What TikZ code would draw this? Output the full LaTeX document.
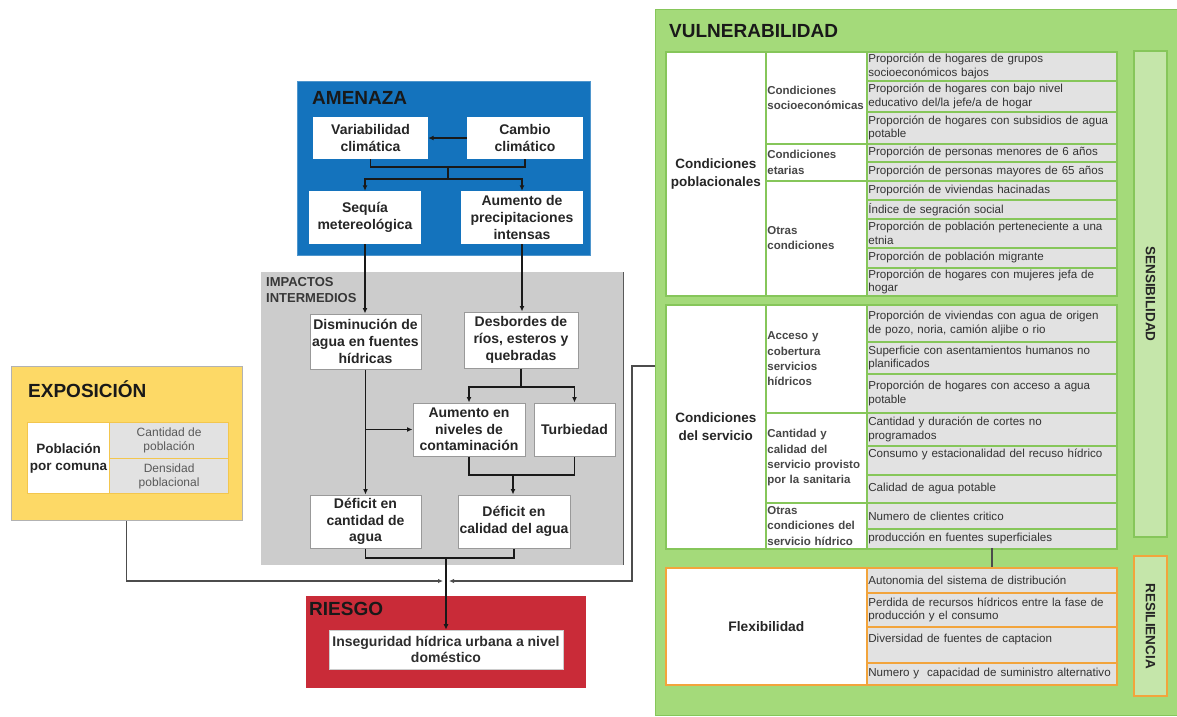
\documentclass[tikz,border=0pt]{standalone}
\usepackage{fontspec}
\setmainfont{Liberation Sans}
\usetikzlibrary{arrows.meta}
\hyphenpenalty=10000
\exhyphenpenalty=10000
\definecolor{amzblue}{HTML}{1473BD}
\definecolor{riskred}{HTML}{C92B38}
\definecolor{expyellow}{HTML}{FDD966}
\definecolor{expborder}{HTML}{F3C64E}
\definecolor{vgreen}{HTML}{A4DA7A}
\definecolor{vborder}{HTML}{86C65A}
\definecolor{lightg}{HTML}{C5E6AA}
\definecolor{cellgray}{HTML}{E2E2E2}
\definecolor{impgray}{HTML}{CCCCCC}
\definecolor{orangeb}{HTML}{F2A43C}
\begin{document}
\begin{tikzpicture}[x=1pt,y=-1pt,
  ttl/.style={font=\fontsize{19}{22}\selectfont\bfseries, text=black!90, inner sep=0pt, anchor=west},
  wbox/.style={fill=white, align=center, inner sep=0pt, font=\fontsize{14}{16.7}\selectfont\bfseries, text=black!85},
  ibox/.style={wbox, draw=black!40, line width=1pt},
  conn/.style={draw=black!90, line width=1.6pt},
  arr/.style={conn, -{Latex[length=5.5pt,width=5pt]}},
  gconn/.style={draw=black!70, line width=1.1pt},
  garr/.style={gconn, -{Latex[length=5pt,width=4.5pt]}},
  tcell/.style={anchor=north west, draw=vborder, line width=1.7pt, fill=cellgray, inner xsep=1.5pt, inner ysep=0pt, text width=247pt, minimum width=250pt, minimum height=#1, align=left, font=\fontsize{11.6}{13.6}\selectfont, text=black!80},
  ocell/.style={tcell=#1, draw=orangeb},
  ccell/.style={anchor=north west, draw=vborder, line width=1.7pt, fill=white, inner xsep=1.5pt, inner ysep=0pt, text width=98pt, minimum width=101pt, minimum height=#1, align=left, font=\fontsize{11.5}{15.3}\selectfont\bfseries, text=black!72},
  hcell/.style={anchor=north west, draw=vborder, line width=1.7pt, fill=white, inner sep=0pt, minimum width=100pt, minimum height=#1, align=center, font=\fontsize{13.5}{17.5}\selectfont\bfseries, text=black!85},
  ecell/.style={anchor=north west, draw=expborder, line width=1.2pt, fill=cellgray, inner sep=0pt, minimum width=119pt, minimum height=#1, align=center, font=\fontsize{12}{14}\selectfont, text=black!65},
  side/.style={line width=1.4pt, fill=lightg, rotate=-90, minimum height=33pt, inner sep=0pt, font=\fontsize{13.5}{16}\selectfont\bfseries, text=black!85},
]
\useasboundingbox (0,0) rectangle (1177,716);

% ---------------- AMENAZA ----------------
\node[anchor=north west, fill=amzblue, draw=amzblue!75!white, line width=0.8pt, minimum width=293pt, minimum height=174pt, inner sep=0pt] (amz) at (297,81) {};
\node[ttl] (amzt) at (312,97.5) {AMENAZA};
\node[wbox, minimum width=115pt, minimum height=42pt] (var) at (370.5,138) {Variabilidad\\climática};
\node[wbox, minimum width=116pt, minimum height=42pt] (cam) at (525,138) {Cambio\\climático};
\node[wbox, minimum width=112pt, minimum height=53pt] (seq) at (365,217.5) {Sequía\\metereológica};
\node[wbox, minimum width=122pt, minimum height=53pt] (aum) at (522,217.5) {Aumento de\\precipitaciones\\intensas};

% ---------------- IMPACTOS ----------------
\node[anchor=north west, fill=impgray, minimum width=362pt, minimum height=293pt, inner sep=0pt] (imp) at (261,272) {};
\draw[black!65, line width=1.2pt] (imp.north east) -- (imp.south east);
\node[anchor=north west, align=left, inner sep=0pt, font=\fontsize{13}{16}\selectfont\bfseries, text=black!78] (impt) at (266,277) {IMPACTOS\\INTERMEDIOS};
\node[ibox, minimum width=111pt, minimum height=55pt] (dis) at (365.5,341.5) {Disminución de\\agua en fuentes\\hídricas};
\node[ibox, minimum width=114pt, minimum height=56pt] (des) at (521,340) {Desbordes de\\ríos, esteros y\\quebradas};
\node[ibox, minimum width=112pt, minimum height=53pt] (cont) at (469,429.5) {Aumento en\\niveles de\\contaminación};
\node[ibox, minimum width=81pt, minimum height=53pt] (turb) at (574.5,429.5) {Turbiedad};
\node[ibox, minimum width=111pt, minimum height=53pt] (defq) at (365.5,521.5) {Déficit en\\cantidad de\\agua};
\node[ibox, minimum width=112pt, minimum height=53pt] (defc) at (514,521.5) {Déficit en\\calidad del agua};

% ---------------- EXPOSICION ----------------
\node[anchor=north west, fill=expyellow, draw=black!30, line width=0.8pt, minimum width=231pt, minimum height=154pt, inner sep=0pt] (expo) at (11,366) {};
\node[ttl] (expot) at (28,389) {EXPOSICIÓN};
\node[anchor=north west, draw=expborder, line width=1.2pt, fill=white, inner sep=0pt, minimum width=82pt, minimum height=71pt, align=center, font=\fontsize{13.5}{17}\selectfont\bfseries, text=black!85] (pob) at (27,422) {Población\\por comuna};
\node[ecell=36pt] (cpob) at (109,422) {Cantidad de\\población};
\node[ecell=35pt] (dpob) at (109,458) {Densidad\\poblacional};

% ---------------- RIESGO ----------------
\node[anchor=north west, fill=riskred, minimum width=280pt, minimum height=92pt, inner sep=0pt] (rsk) at (306,596) {};
\node[ttl] (rskt) at (309,609) {RIESGO};
\node[fill=white, draw=black!20, line width=0.6pt, minimum width=234pt, minimum height=39pt, inner sep=0pt, align=center, font=\fontsize{14}{16}\selectfont\bfseries, text=black!82] (rin) at (446,649.5) {Inseguridad hídrica urbana a nivel\\doméstico};

% ---------------- VULNERABILIDAD ----------------
\node[anchor=north west, fill=vgreen, draw=vborder, line width=1pt, minimum width=522pt, minimum height=706pt, inner sep=0pt] (vul) at (655,9) {};
\node[ttl] (vult) at (669,31) {VULNERABILIDAD};

% section 1
\node[hcell=244pt] (cpo) at (665,51) {Condiciones\\poblacionales};
\node[ccell=92pt] (cse) at (765,51) {Condiciones\\socioeconómicas};
\node[ccell=37pt] (cet) at (765,143) {Condiciones\\etarias};
\node[ccell=115pt] (cot) at (765,180) {Otras\\condiciones};
\node[tcell=29pt] (a1) at (866,51) {Proporción de hogares de grupos\\socioeconómicos bajos};
\node[tcell=31pt] (a2) at (866,80) {Proporción de hogares con bajo nivel\\educativo del/la jefe/a de hogar};
\node[tcell=32pt] (a3) at (866,111) {Proporción de hogares con subsidios de agua\\potable};
\node[tcell=18pt] (a4) at (866,143) {Proporción de personas menores de 6 años};
\node[tcell=19pt] (a5) at (866,161) {Proporción de personas mayores de 65 años};
\node[tcell=19pt] (a6) at (866,180) {Proporción de viviendas hacinadas};
\node[tcell=19pt] (a7) at (866,199) {Índice de segración social};
\node[tcell=29pt] (a8) at (866,218) {Proporción de población perteneciente a una\\etnia};
\node[tcell=20pt] (a9) at (866,247) {Proporción de población migrante};
\node[tcell=28pt] (a10) at (866,267) {Proporción de hogares con mujeres jefa de\\hogar};

% section 2
\node[hcell=244pt] (cds) at (665,304) {Condiciones\\del servicio};
\node[ccell=108pt] (cac) at (765,304) {Acceso y\\cobertura\\servicios\\hídricos};
\node[ccell=90pt] (cca) at (765,412) {Cantidad y\\calidad del\\servicio provisto\\por la sanitaria};
\node[ccell=46pt] (coc) at (765,502) {Otras\\condiciones del\\servicio hídrico};
\node[tcell=37pt] (b1) at (866,304) {Proporción de viviendas con agua de origen\\de pozo, noria, camión aljibe o rio};
\node[tcell=32pt] (b2) at (866,341) {Superficie con asentamientos humanos no\\planificados};
\node[tcell=39pt] (b3) at (866,373) {Proporción de hogares con acceso a agua\\potable};
\node[tcell=33pt] (b4) at (866,412) {Cantidad y duración de cortes no\\programados};
\node[tcell=29pt] (b5) at (866,445) {Consumo y estacionalidad del recuso hídrico\\\mbox{}};
\node[tcell=28pt] (b6) at (866,474) {Calidad de agua potable};
\node[tcell=26pt] (b7) at (866,502) {Numero de clientes critico};
\node[tcell=20pt] (b8) at (866,528) {producción en fuentes superficiales};

% section 3
\node[hcell=117pt, draw=orangeb, minimum width=201pt, font=\fontsize{13.8}{17}\selectfont\bfseries] (flx) at (665,567) {Flexibilidad};
\node[ocell=25pt] (r1) at (866,567) {Autonomia del sistema de distribución};
\node[ocell=34pt] (r2) at (866,592) {Perdida de recursos hídricos entre la fase de\\producción y el consumo};
\node[ocell=36pt] (r3) at (866,626) {Diversidad de fuentes de captacion\\\mbox{}};
\node[ocell=22pt] (r4) at (866,662) {Numero y~ capacidad de suministro alternativo};

% side labels
\node[side, draw=vborder, minimum width=486pt] (sens) at (1150.5,294) {SENSIBILIDAD};
\node[side, draw=orangeb, minimum width=140pt] (resi) at (1150.5,626) {RESILIENCIA};

% ---------------- CONNECTORS ----------------
\coordinate (j1a) at (448,167);
\coordinate (j1b) at (448,179);
\coordinate (j2) at (521,387);
\coordinate (j3) at (513,475);
\coordinate (j4) at (446,558);
\coordinate (jl) at (443,581);
\coordinate (jr) at (449,581);
\coordinate (vc) at (655,366);
\coordinate (vk) at (632,366);
\coordinate (sb) at (992,548);
\coordinate (rt) at (992,567);

\draw[arr] (cam.west) -- (var.east);
\draw[conn] (var.south) |- (j1a) -| (cam.south);
\draw[conn] (j1a) -- (j1b);
\draw[arr] (j1b) -| (seq.north);
\draw[arr] (j1b) -| (aum.north);
\draw[arr] (seq.south) -- (seq.south |- dis.north);
\draw[arr] (aum.south) -- (aum.south |- des.north);
\draw[conn] (des.south -| j2) -- (j2);
\draw[arr] (j2) -| (cont.north);
\draw[arr] (j2) -| (turb.north);
\draw[arr] (dis.south) -- (defq.north);
\draw[arr] (dis.south |- cont.west) -- (cont.west);
\draw[conn] (cont.south) |- (j3) -| (turb.south);
\draw[arr] (j3) -- (j3 |- defc.north);
\draw[conn] (defq.south) |- (j4) -| (defc.south);
\draw[arr, line width=1.4pt] (j4) -- (j4 |- rin.north);
\draw[garr] (expo.south) |- (jl);
\draw[garr] (vc) -- (vk) |- (jr);
\draw[gconn] (sb) -- (rt);
\end{tikzpicture}
\end{document}
